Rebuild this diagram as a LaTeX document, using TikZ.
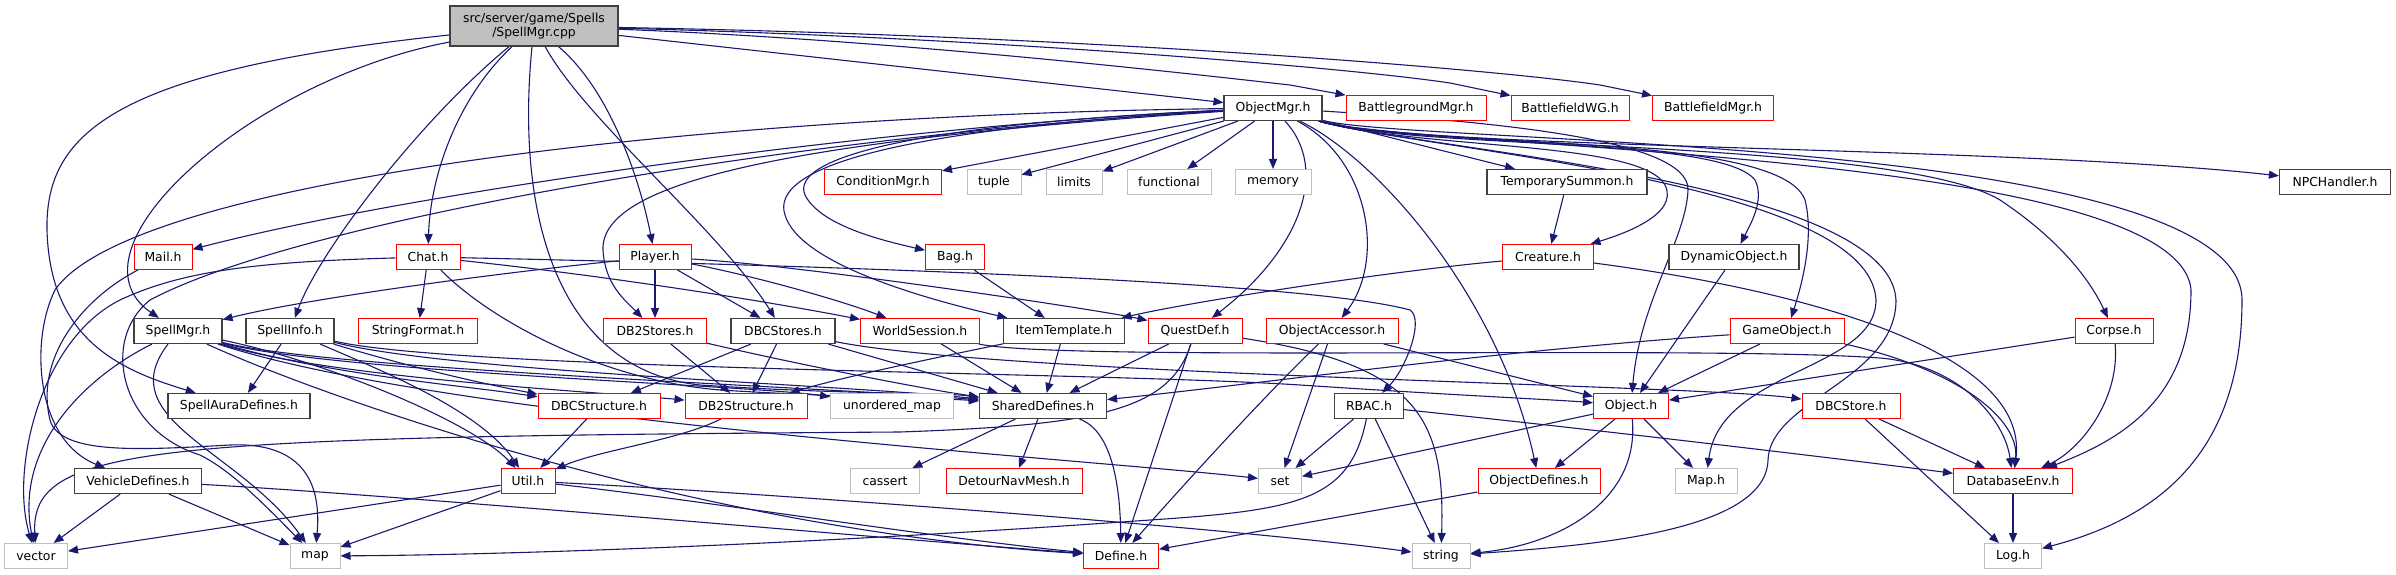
\documentclass[tikz,border=0pt]{standalone}
\usepackage{fontspec}
\setmainfont{DejaVu Sans}
\usetikzlibrary{arrows.meta,backgrounds}
\definecolor{edgeblue}{HTML}{191970}
\definecolor{hdrred}{HTML}{FF0000}
\definecolor{sysgray}{HTML}{BFBFBF}

\begin{document}
\begin{tikzpicture}[x=1pt,y=-1pt,
	hdr/.style={draw=black!75,line width=1.2pt,fill=white,inner sep=0pt,minimum height=25,font=\fontsize{12.4}{14.5}\selectfont},
	redhdr/.style={hdr,draw=hdrred,line width=1pt},
	syshdr/.style={hdr,draw=sysgray,line width=1pt},
	dep/.style={draw=edgeblue,line width=1.1pt,-{Triangle[length=10pt,width=8pt]}}]
		\useasboundingbox (0,0) rectangle (2396,575);
		\node[hdr,fill=sysgray,minimum width=168,minimum height=40,align=center] (root) at (534,26) {src/server/game/Spells\\/SpellMgr.cpp};
		\foreach \n/\x/\y/\w/\t in {objmgr/1273/108/98/ObjectMgr.h,tempsummon/1567/182/160/TemporarySummon.h,npchandler/2335/182/111/NPCHandler.h,dynobj/1734/257/130/DynamicObject.h,spellmgrh/178/331/88/SpellMgr.h,spellinfo/290/331/88/SpellInfo.h,dbcstores/783/331/104/DBCStores.h,itemtemplate/1064/331/121/ItemTemplate.h,spellaura/239/406/142/SpellAuraDefines.h,shareddefs/1043/406/127/SharedDefines.h,rbac/1369/406/69/RBAC.h,vehicledefs/138/481/127/VehicleDefines.h} {
			\node[hdr,minimum width=\w] (\n) at (\x,\y) {\t};
		}
		\foreach \n/\x/\y/\w/\t in {bgmgr/1416/108/140/BattlegroundMgr.h,bfwg/1570/108/118/BattlefieldWG.h,bfmgr/1713/108/121/BattlefieldMgr.h,condmgr/883/182/117/ConditionMgr.h,mail/163/257/58/Mail.h,chat/428/257/64/Chat.h,player/655/257/72/Player.h,bag/955/257/59/Bag.h,creature/1548/257/91/Creature.h,strformat/418/331/119/StringFormat.h,db2stores/655/331/103/DB2Stores.h,worldsession/920/331/119/WorldSession.h,questdef/1195/331/94/QuestDef.h,objaccessor/1332/331/132/ObjectAccessor.h,gameobject/1787/331/114/GameObject.h,corpse/2114/331/78/Corpse.h,dbcstructure/599/406/122/DBCStructure.h,db2structure/746/406/122/DB2Structure.h,objecth/1631/406/75/Object.h,dbcstore/1851/406/98/DBCStore.h,util/528/481/54/Util.h,detour/1014/481/136/DetourNavMesh.h,objdefines/1539/481/122/ObjectDefines.h,dbenv/2013/481/119/DatabaseEnv.h,defineh/1121/556/75/Define.h} {
			\node[redhdr,minimum width=\w] (\n) at (\x,\y) {\t};
		}
		\foreach \n/\x/\y/\w/\t in {tuple/994/182/54/tuple,limits/1074/182/56/limits,functional/1169/182/84/functional,memory/1273/182/76/memory,unorderedmap/892/406/123/unordered\_map,cassert/885/481/69/cassert,stdset/1280/481/43/set,maph/1706/481/62/Map.h,stdvector/36/556/63/vector,stdmap/315/556/50/map,stdstring/1441/556/58/string,logh/2013/556/57/Log.h} {
			\node[syshdr,minimum width=\w] (\n) at (\x,\y) {\t};
		}
		\begin{scope}[on background layer]
		\foreach \a/\b in {root/objmgr,objmgr/condmgr,objmgr/tuple,objmgr/limits,objmgr/functional,objmgr/memory,objmgr/tempsummon,chat/strformat,player/db2stores,player/dbcstores,bag/itemtemplate,tempsummon/creature,dynobj/objecth,spellinfo/spellaura,db2stores/db2structure,dbcstores/dbcstructure,dbcstores/db2structure,dbcstores/shareddefs,worldsession/shareddefs,itemtemplate/shareddefs,questdef/shareddefs,questdef/defineh,objaccessor/objecth,objaccessor/stdset,gameobject/objecth,corpse/objecth,dbcstructure/util,shareddefs/cassert,shareddefs/detour,rbac/stdset,rbac/stdstring,objecth/stdset,objecth/objdefines,objecth/maph,dbcstore/dbenv,dbcstore/logh,dbenv/logh,util/stdvector,util/stdmap,objdefines/defineh,vehicledefs/stdvector,vehicledefs/stdmap} {
			\draw[dep] (\a) -- (\b);
		}
		\draw[dep] (root) .. controls (900,40) and (1200,75) .. (1290,85) -- (bgmgr);
		\draw[dep] (root) .. controls (1000,38) and (1350,68) .. (1450,83) -- (bfwg);
		\draw[dep] (root) .. controls (1100,36) and (1500,70) .. (1600,85) -- (bfmgr);
		\draw[dep] (root) .. controls (455,100) and (430,180) .. (chat);
		\draw[dep] (root) .. controls (420,120) and (320,250) .. (spellinfo);
		\draw[dep] (root) .. controls (250,80) and (60,250) .. (spellmgrh);
		\draw[dep] (root) .. controls (120,70) and (45,130) .. (47,230) .. controls (50,340) and (120,370) .. (spellaura);
		\draw[dep] (root) .. controls (585,120) and (720,230) .. (dbcstores);
		\draw[dep] (root) .. controls (610,90) and (640,180) .. (player);
		\draw[dep] (root) .. controls (515,220) and (560,370) .. (700,385) .. controls (850,395) and (940,392) .. (shareddefs);
		\draw[dep] (objmgr) .. controls (900,125) and (420,190) .. (mail);
		\draw[dep] (objmgr) .. controls (700,115) and (130,180) .. (55,290) .. controls (30,340) and (35,440) .. (vehicledefs);
		\draw[dep] (objmgr) .. controls (800,135) and (300,220) .. (150,300) .. controls (100,340) and (120,430) .. (200,455) .. controls (230,470) and (260,500) .. (stdmap);
		\draw[dep] (objmgr) .. controls (800,140) and (600,180) .. (603,250) .. controls (605,285) and (625,300) .. (db2stores);
		\draw[dep] (objmgr) .. controls (900,125) and (790,160) .. (805,195) .. controls (820,225) and (880,240) .. (bag);
		\draw[dep] (objmgr) .. controls (880,130) and (770,170) .. (785,215) .. controls (800,265) and (930,300) .. (itemtemplate);
		\draw[dep] (objmgr) .. controls (1420,150) and (2000,145) .. (npchandler);
		\draw[dep] (objmgr) .. controls (1420,150) and (1640,140) .. (1665,185) .. controls (1680,215) and (1620,235) .. (creature);
		\draw[dep] (objmgr) .. controls (1420,150) and (1720,135) .. (1755,180) .. controls (1765,200) and (1750,225) .. (dynobj);
		\draw[dep] (objmgr) .. controls (1420,150) and (1780,130) .. (1805,200) .. controls (1815,240) and (1800,290) .. (gameobject);
		\draw[dep] (objmgr) .. controls (1420,150) and (1900,140) .. (2000,200) .. controls (2060,240) and (2090,280) .. (corpse);
		\draw[dep] (objmgr) .. controls (1420,150) and (2180,150) .. (2191,290) .. controls (2191,400) and (2120,440) .. (dbenv);
		\draw[dep] (objmgr) .. controls (1420,145) and (2242,135) .. (2242,300) .. controls (2242,460) and (2150,520) .. (logh);
		\draw[dep] (objmgr) .. controls (1420,150) and (1870,180) .. (1876,300) .. controls (1876,370) and (1720,370) .. (maph);
		\draw[dep] (objmgr) .. controls (1420,150) and (1890,180) .. (1896,300) .. controls (1896,380) and (1770,400) .. (1768,460) .. controls (1766,530) and (1600,545) .. (stdstring);
		\draw[dep] (objmgr) .. controls (1500,122) and (1690,140) .. (1688,190) .. controls (1686,240) and (1640,300) .. (objecth);
		\draw[dep] (objmgr) .. controls (1380,160) and (1500,300) .. (objdefines);
		\draw[dep] (objmgr) .. controls (1370,160) and (1385,260) .. (objaccessor);
		\draw[dep] (objmgr) .. controls (1330,170) and (1300,250) .. (questdef);
		\draw[dep] (mail) .. controls (80,300) and (35,360) .. (50,420) .. controls (60,455) and (140,450) .. (230,445) .. controls (300,442) and (322,480) .. (stdmap);
		\draw[dep] (chat) .. controls (250,262) and (180,272) .. (120,300) .. controls (40,340) and (10,470) .. (stdvector);
		\draw[dep] (chat) .. controls (490,320) and (600,380) .. (720,390) .. controls (850,398) and (940,398) .. (shareddefs);
		\draw[dep] (chat) .. controls (600,275) and (760,300) .. (worldsession);
		\draw[dep] (chat) .. controls (800,265) and (1300,280) .. (1410,310) .. controls (1425,320) and (1405,370) .. (rbac);
		\draw[dep] (player) .. controls (480,275) and (300,300) .. (spellmgrh);
		\draw[dep] (player) .. controls (750,275) and (840,300) .. (worldsession);
		\draw[dep] (player) .. controls (800,265) and (1100,310) .. (questdef);
		\draw[dep] (creature) .. controls (1400,270) and (1200,300) .. (itemtemplate);
		\draw[dep] (creature) .. controls (1800,290) and (2030,350) .. (dbenv);
		\draw[dep] (spellmgrh) .. controls (80,380) and (15,450) .. (stdvector);
		\draw[dep] (spellmgrh) .. controls (110,420) and (240,450) .. (stdmap);
		\draw[dep] (spellmgrh) .. controls (330,375) and (460,385) .. (dbcstructure);
		\draw[dep] (spellmgrh) .. controls (330,378) and (600,392) .. (db2structure);
		\draw[dep] (spellmgrh) .. controls (330,372) and (750,385) .. (unorderedmap);
		\draw[dep] (spellmgrh) .. controls (330,370) and (850,388) .. (shareddefs);
		\draw[dep] (spellmgrh) .. controls (320,360) and (470,420) .. (util);
		\draw[dep] (spellmgrh) .. controls (450,420) and (1100,460) .. (stdset);
		\draw[dep] (spellmgrh) .. controls (330,400) and (700,530) .. (defineh);
		\draw[dep] (spellinfo) .. controls (380,370) and (480,410) .. (util);
		\draw[dep] (spellinfo) .. controls (420,370) and (490,385) .. (dbcstructure);
		\draw[dep] (spellinfo) .. controls (450,372) and (850,385) .. (shareddefs);
		\draw[dep] (spellinfo) .. controls (460,370) and (1100,372) .. (1300,385) .. controls (1450,395) and (1560,400) .. (objecth);
		\draw[dep] (db2stores) .. controls (800,365) and (930,390) .. (shareddefs);
		\draw[dep] (dbcstores) .. controls (1000,375) and (1700,385) .. (dbcstore);
		\draw[dep] (worldsession) .. controls (1060,362) and (1700,345) .. (1880,358) .. controls (1960,365) and (2005,420) .. (dbenv);
		\draw[dep] (itemtemplate) .. controls (950,355) and (850,375) .. (db2structure);
		\draw[dep] (questdef) .. controls (1170,410) and (1100,425) .. (900,432) .. controls (150,437) and (30,445) .. (stdvector);
		\draw[dep] (questdef) .. controls (1420,365) and (1445,420) .. (stdstring);
		\draw[dep] (objaccessor) .. controls (1260,400) and (1170,500) .. (defineh);
		\draw[dep] (gameobject) .. controls (1960,370) and (2020,420) .. (dbenv);
		\draw[dep] (gameobject) .. controls (1500,350) and (1250,385) .. (shareddefs);
		\draw[dep] (corpse) .. controls (2120,400) and (2080,450) .. (dbenv);
		\draw[dep] (db2structure) .. controls (680,440) and (600,450) .. (util);
		\draw[dep] (shareddefs) .. controls (1110,430) and (1120,480) .. (defineh);
		\draw[dep] (rbac) .. controls (1350,500) and (1300,510) .. (1150,520) .. controls (800,545) and (500,555) .. (stdmap);
		\draw[dep] (rbac) .. controls (1600,430) and (1850,460) .. (dbenv);
		\draw[dep] (objecth) .. controls (1640,500) and (1560,545) .. (stdstring);
		\draw[dep] (util) .. controls (700,500) and (950,540) .. (defineh);
		\draw[dep] (util) .. controls (800,495) and (1250,530) .. (stdstring);
		\draw[dep] (vehicledefs) .. controls (400,495) and (900,540) .. (defineh);
		\end{scope}
\end{tikzpicture}
\end{document}
